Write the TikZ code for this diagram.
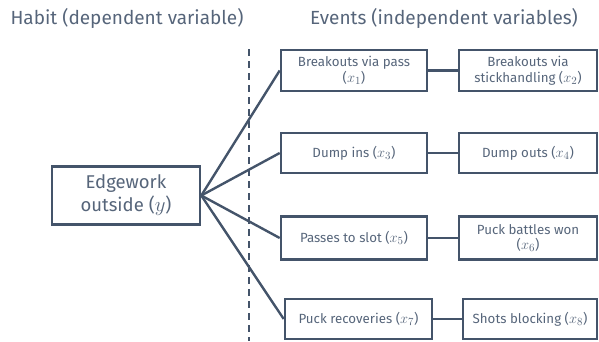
\documentclass[tikz,border=0pt]{standalone}
\usepackage{fontspec}
\setmainfont{Fira Sans}
\definecolor{lc}{HTML}{44546A}
\definecolor{tc}{HTML}{56657A}
\newcommand{\xvar}[1]{{\fontsize{15.5}{15}\selectfont$x_{#1}$}}
\begin{document}
\begin{tikzpicture}[x=1pt,y=-1pt,
  box/.style={draw=lc,line width=2.6pt,text=tc,align=center,inner sep=1pt,font=\fontsize{13.3}{15.5}\selectfont},
  conn/.style={draw=lc,line width=2.4pt},
  title/.style={text=tc,font=\fontsize{19}{22}\selectfont,inner sep=0pt}]
\useasboundingbox (0,0) rectangle (599,341);
\node[title] (t1) at (127,18) {Habit (dependent variable)};
\node[title] (t2) at (444,18) {Events (independent variables)};
\coordinate (dtop) at (248.5,49);
\coordinate (dbot) at (248.5,341);
\draw[lc,line width=2pt,dash pattern=on 7pt off 5pt] (dtop) -- (dbot);
\node[box,minimum width=148pt,minimum height=58pt,font=\fontsize{18.5}{23}\selectfont] (y) at (126,195.5) {Edgework\\outside ({\fontsize{20}{20}\selectfont$y$})};
\node[box,minimum width=146pt,minimum height=41pt] (b1) at (354,70.5) {Breakouts via pass\\(\xvar{1})};
\node[box,minimum width=138pt,minimum height=41pt] (b2) at (528,70.5) {Breakouts via\\stickhandling (\xvar{2})};
\node[box,minimum width=146pt,minimum height=40pt] (b3) at (354,153) {Dump ins (\xvar{3})};
\node[box,minimum width=138pt,minimum height=40pt] (b4) at (528,153) {Dump outs (\xvar{4})};
\node[box,minimum width=146pt,minimum height=43pt] (b5) at (354,238) {Passes to slot (\xvar{5})};
\node[box,minimum width=138pt,minimum height=43pt] (b6) at (528,238) {Puck battles won\\(\xvar{6})};
\node[box,minimum width=147pt,minimum height=40pt] (b7) at (358.5,319) {Puck recoveries (\xvar{7})};
\node[box,minimum width=134pt,minimum height=40pt] (b8) at (530,319) {Shots blocking (\xvar{8})};
\foreach \b in {b1,b3,b5,b7} \draw[conn] (y.east) -- (\b.west);
\draw[conn] (b1) -- (b2);
\draw[conn] (b3) -- (b4);
\draw[conn] (b5) -- (b6);
\draw[conn] (b7) -- (b8);
\end{tikzpicture}
\end{document}
